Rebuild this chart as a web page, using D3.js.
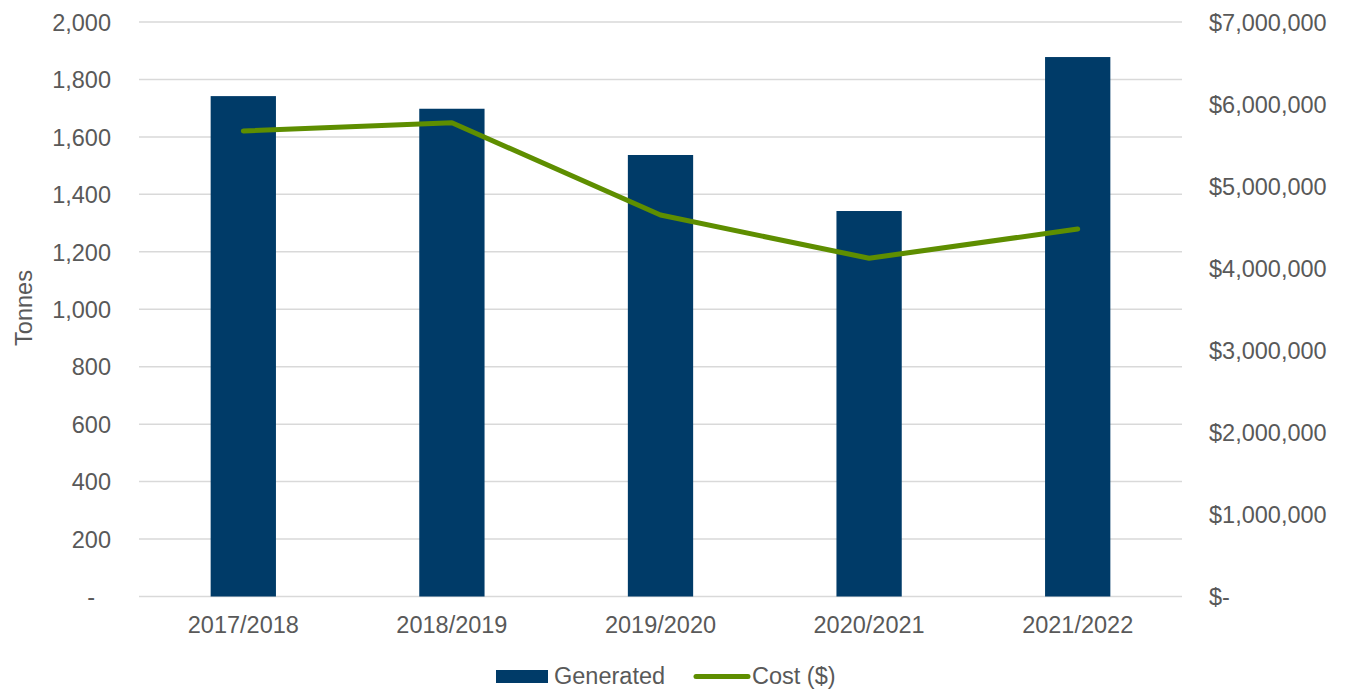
<!DOCTYPE html>
<html><head><meta charset="utf-8">
<script src="https://cdn.jsdelivr.net/npm/d3@7"></script>
<style>body{margin:0;background:#fff;} text{font-family:"Liberation Sans",Arial,sans-serif;fill:#595959;}</style>
</head><body><svg id="c" width="1347" height="691"></svg>
<script>
const categories = ["2017/2018","2018/2019","2019/2020","2020/2021","2021/2022"];
const generated = [1742, 1698, 1537, 1342, 1878];
const cost = [5672000, 5773000, 4648000, 4121000, 4478000];
const leftTicks = [0,200,400,600,800,1000,1200,1400,1600,1800,2000];
const rightTicks = [0,1000000,2000000,3000000,4000000,5000000,6000000,7000000];

const svg = d3.select("#c");
const L = 139, R = 1182, T = 22, B = 596.5;
const FS = "23.5px";
const x = d3.scaleBand().domain(categories).range([L,R]).paddingInner(0.687).paddingOuter(0.3435);
const y = d3.scaleLinear().domain([0,2000]).range([B,T]);
const y2 = d3.scaleLinear().domain([0,7000000]).range([B,T]);
const fmt = d3.format(",");

// gridlines
svg.append("g").selectAll("line").data(leftTicks).join("line")
  .attr("x1",L).attr("x2",R).attr("y1",d=>y(d)).attr("y2",d=>y(d))
  .attr("stroke","#d9d9d9").attr("stroke-width",1.5);

// left axis
const la = svg.append("g").attr("transform",`translate(${L},0)`)
  .call(d3.axisLeft(y).tickValues(leftTicks).tickSize(0).tickPadding(28).tickFormat(d=>d===0?"-":fmt(d)));
la.select(".domain").remove();
la.selectAll("text").style("font-size",FS).attr("fill","#595959").attr("dy","0.35em");
la.selectAll("text").filter(d=>d===0).attr("dx","-16");

// right axis
const ra = svg.append("g").attr("transform",`translate(${R},0)`)
  .call(d3.axisRight(y2).tickValues(rightTicks).tickSize(0).tickPadding(27).tickFormat(d=>d===0?"$-":"$"+fmt(d)));
ra.select(".domain").remove();
ra.selectAll("text").style("font-size",FS).attr("fill","#595959").attr("dy","0.35em");

// x axis
const xa = svg.append("g").attr("transform",`translate(0,${B})`)
  .call(d3.axisBottom(x).tickSize(0).tickPadding(20));
xa.select(".domain").remove();
xa.selectAll("text").style("font-size",FS).attr("fill","#595959");

// bars
svg.append("g").selectAll("rect").data(generated).join("rect")
  .attr("x",(d,i)=>x(categories[i])).attr("width",x.bandwidth())
  .attr("y",d=>y(d)).attr("height",d=>B-y(d)).attr("fill","#003b68");

// line
const line = d3.line().x((d,i)=>x(categories[i])+x.bandwidth()/2).y(d=>y2(d));
svg.append("path").datum(cost).attr("d",line).attr("fill","none")
  .attr("stroke","#5e8e00").attr("stroke-width",5).attr("stroke-linecap","round").attr("stroke-linejoin","round");

// y title
svg.append("text").attr("transform","translate(32,308) rotate(-90)").attr("text-anchor","middle")
  .style("font-size",FS).text("Tonnes");

// legend
const lg = svg.append("g");
lg.append("rect").attr("x",496).attr("y",670).attr("width",52).attr("height",13).attr("fill","#003b68");
lg.append("text").attr("x",554).attr("y",684).style("font-size",FS).text("Generated");
lg.append("line").attr("x1",696).attr("x2",748).attr("y1",676.5).attr("y2",676.5)
  .attr("stroke","#5e8e00").attr("stroke-width",5).attr("stroke-linecap","round");
lg.append("text").attr("x",752).attr("y",684).style("font-size",FS).text("Cost ($)");
</script></body></html>
